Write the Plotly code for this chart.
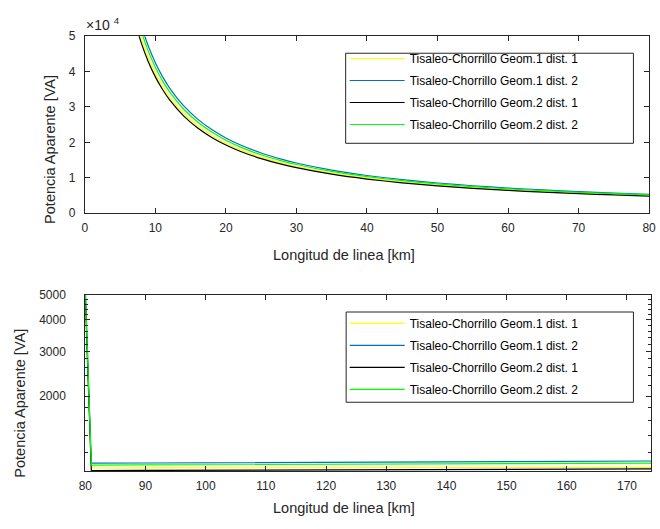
import plotly.graph_objects as go

W, H = 660, 529

# ---------------- data ----------------
names = ["Tisaleo-Chorrillo Geom.1 dist. 1",
         "Tisaleo-Chorrillo Geom.1 dist. 2",
         "Tisaleo-Chorrillo Geom.2 dist. 1",
         "Tisaleo-Chorrillo Geom.2 dist. 2"]
colors = ["#FFFF00", "#0072BD", "#000000", "#00FF00"]

# top panel: length 0-80 km
x_top = [7, 7.5, 8, 9, 10, 11, 12, 14, 16, 18, 20, 22, 25, 28, 30, 35, 40, 45, 50, 55, 60, 65, 70, 75, 80]
g1d1_top = [56400, 52667, 49375, 43889, 39500, 35909, 32917, 28214, 24688, 21944, 19750, 17955, 15800, 14107, 13167, 11286, 9875, 8778, 7900, 7182, 6583, 6077, 5643, 5267, 4938]
g1d2_top = [60700, 56667, 53125, 47222, 42500, 38636, 35417, 30357, 26563, 23611, 21250, 19318, 17000, 15179, 14167, 12143, 10625, 9444, 8500, 7727, 7083, 6538, 6071, 5667, 5313]
g2d1_top = [55000, 51333, 48125, 42778, 38500, 35000, 32083, 27500, 24063, 21389, 19250, 17500, 15400, 13750, 12833, 11000, 9625, 8556, 7700, 7000, 6417, 5923, 5500, 5133, 4813]
g2d2_top = [58850, 54933, 51500, 45778, 41200, 37455, 34333, 29429, 25750, 22889, 20600, 18727, 16480, 14714, 13733, 11771, 10300, 9156, 8240, 7491, 6867, 6338, 5886, 5493, 5150]

# bottom panel: length 80-174 km
x_bot = [80, 81, 90, 100, 110, 120, 130, 140, 150, 160, 170, 174]
g1d1_bot = [4938, 1044, 1045, 1045, 1046, 1047, 1047, 1048, 1049, 1049, 1050, 1050]
g1d2_bot = [5313, 1090, 1092, 1095, 1097, 1100, 1102, 1104, 1106, 1108, 1111, 1112]
g2d1_bot = [4813, 1020, 1021, 1023, 1024, 1026, 1027, 1029, 1030, 1032, 1034, 1035]
g2d2_bot = [5150, 1072, 1074, 1076, 1078, 1080, 1082, 1084, 1086, 1087, 1089, 1090]

top_ticks = [0, 10000, 20000, 30000, 40000, 50000]
top_ticktext = ["0", "1", "2", "3", "4", "5"]
bot_ticks = [2000, 3000, 4000, 5000]
bot_minor = [1200, 1400, 1600, 1800, 2200, 2400, 2600, 2800, 3200, 3400, 3600, 3800, 4200, 4400, 4600, 4800]
x_top_ticks = [0, 10, 20, 30, 40, 50, 60, 70, 80]
x_bot_ticks = [80, 90, 100, 110, 120, 130, 140, 150, 160, 170]

xlabel = "Longitud de linea [km]"
ylabel = "Potencia Aparente [VA]"

# ---------------- figure ----------------
def px(x):
    return x / W

def py(y):
    return 1 - y / H

FONT = "Liberation Sans, Arial, sans-serif"
AX = "#262626"

fig = go.Figure()
tops = [g1d1_top, g1d2_top, g2d1_top, g2d2_top]
bots = [g1d1_bot, g1d2_bot, g2d1_bot, g2d2_bot]
for i in range(4):
    fig.add_trace(go.Scatter(x=x_top, y=tops[i], mode="lines", name=names[i],
                             line=dict(color=colors[i], width=1.2, shape="spline", smoothing=0.6),
                             xaxis="x", yaxis="y", legend="legend",
                             legendgroup="t%d" % i))
for i in range(4):
    fig.add_trace(go.Scatter(x=x_bot, y=bots[i], mode="lines", name=names[i],
                             line=dict(color=colors[i], width=1.2),
                             xaxis="x2", yaxis="y2", legend="legend2",
                             legendgroup="b%d" % i))

axis_common = dict(showline=True, linecolor=AX, linewidth=1, mirror="ticks",
                   ticks="inside", ticklen=5, tickcolor=AX, tickwidth=1,
                   showgrid=False, zeroline=False,
                   tickfont=dict(family=FONT, size=12, color=AX))

fig.update_layout(
    width=W, height=H, margin=dict(l=0, r=0, t=0, b=0),
    paper_bgcolor="white", plot_bgcolor="white",
    font=dict(family=FONT, size=12, color=AX),
    xaxis=dict(domain=[px(79.5), px(656)], range=[0, 80], anchor="y",
               tickmode="array", tickvals=x_top_ticks, ticklabelstandoff=4,
               ticklabeloverflow="allow", **axis_common),
    yaxis=dict(domain=[py(211.7), py(30)], range=[0, 50000], anchor="x",
               tickmode="array", tickvals=top_ticks, ticktext=top_ticktext,
               ticklabelstandoff=6, **axis_common),
    xaxis2=dict(domain=[px(80), px(658)], range=[80, 174], anchor="y2",
                tickmode="array", tickvals=x_bot_ticks, ticklabelstandoff=4,
                ticklabeloverflow="allow", **axis_common),
    yaxis2=dict(domain=[py(476.7), py(295.7)], type="log",
                range=[3.0065, 3.69897], anchor="x2",
                tickmode="array", tickvals=bot_ticks,
                ticktext=[str(v) for v in bot_ticks],
                ticklabelstandoff=16,
                minor=dict(tickmode="array", tickvals=bot_minor, ticks="inside",
                           ticklen=3, tickcolor=AX, tickwidth=1),
                **axis_common),
    legend=dict(x=px(345), y=py(38), xanchor="left", yanchor="top",
                bgcolor="rgba(0,0,0,0)", borderwidth=0,
                font=dict(family=FONT, size=12, color="#000000"),
                itemwidth=55, traceorder="grouped", tracegroupgap=3),
    legend2=dict(x=px(345), y=py(310), xanchor="left", yanchor="top",
                 bgcolor="rgba(0,0,0,0)", borderwidth=0,
                 font=dict(family=FONT, size=12, color="#000000"),
                 itemwidth=55, traceorder="grouped", tracegroupgap=3),
    showlegend=True,
)

shapes = [
    dict(type="rect", xref="paper", yref="paper", x0=px(346), x1=px(640), y0=py(140), y1=py(47.5),
         line=dict(color=AX, width=1), fillcolor="rgba(255,255,255,0)", layer="below"),
    dict(type="rect", xref="paper", yref="paper", x0=px(346.5), x1=px(640), y0=py(406), y1=py(313.3),
         line=dict(color=AX, width=1), fillcolor="rgba(255,255,255,0)", layer="below"),
]
fig.update_layout(shapes=shapes)

ann = []
ann.append(dict(text=xlabel, x=px(344), y=py(255), xref="paper", yref="paper",
                showarrow=False, xanchor="center", yanchor="middle",
                font=dict(family=FONT, size=14.5, color=AX)))
ann.append(dict(text=xlabel, x=px(344), y=py(515), xref="paper", yref="paper",
                showarrow=False, xanchor="center", yanchor="middle",
                font=dict(family=FONT, size=14.5, color=AX)))
ann.append(dict(text=ylabel, x=px(44), y=py(146.7), xref="paper", yref="paper",
                showarrow=False, xanchor="center", yanchor="middle", textangle=-90,
                font=dict(family=FONT, size=14.5, color=AX)))
ann.append(dict(text=ylabel, x=px(13), y=py(406.7), xref="paper", yref="paper",
                showarrow=False, xanchor="center", yanchor="middle", textangle=-90,
                font=dict(family=FONT, size=14.5, color=AX)))
ann.append(dict(text="\u00d710 <sup>4</sup>", x=px(79), y=py(17), xref="paper", yref="paper",
                showarrow=False, xanchor="left", yanchor="middle",
                font=dict(family=FONT, size=14, color=AX)))
fig.update_layout(annotations=ann)

fig.write_html("out.html")
